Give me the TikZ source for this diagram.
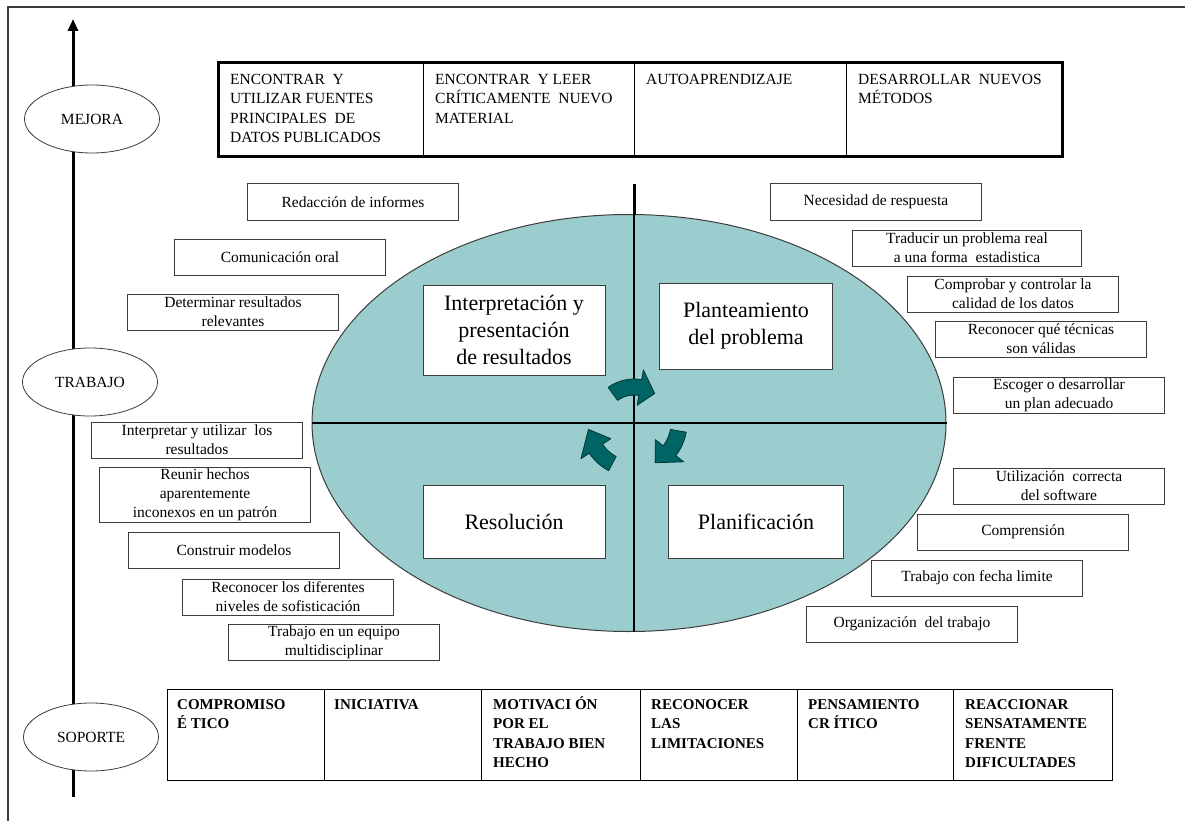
\documentclass[tikz,border=0pt]{standalone}
\usepackage{fontspec}
\setmainfont{Liberation Serif}
\usetikzlibrary{shapes.geometric,arrows.meta}

\definecolor{cyclefill}{RGB}{155,205,206}
\definecolor{arrowfill}{RGB}{0,100,100}
\definecolor{arrowedge}{RGB}{0,55,55}
\definecolor{framegray}{RGB}{60,60,60}

\newcommand\firstline{\rule{0pt}{14pt}}

\tikzset{
  sidebox/.style={draw=framegray, line width=1pt, fill=white, minimum width=211pt,
    minimum height=36pt, align=center, inner sep=1pt,
    font=\fontsize{15.5}{19}\selectfont},
  bigbox/.style={draw=framegray, line width=1pt, fill=white, align=center, inner sep=1pt,
    font=\fontsize{22}{27}\selectfont},
  levelbox/.style={ellipse, draw=framegray, line width=0.8pt, fill=white,
    minimum width=135pt, minimum height=68pt, inner sep=0pt,
    font=\fontsize{15.5}{18}\selectfont},
  celltext/.style={anchor=north west, align=left, inner sep=0pt,
    font=\fontsize{15.5}{19.5}\selectfont},
  celltextb/.style={celltext, font=\fontsize{15}{19.5}\selectfont\bfseries},
  cyclearrow/.style={fill=arrowfill, draw=arrowedge, line width=0.8pt, line join=round},
}

% curved cycle arrow around the origin of the current scope:
% #1 start angle, #2 angle of the head base, #3 tip angle, #4 radius
\newcommand\cyclearrowpath[4]{%
  \path[cyclearrow] (#1:#4+8) arc[start angle=#1, end angle=#2, radius=#4+8]
    -- (#2:#4+18) -- (#3:#4) -- (#2:#4-18) -- (#2:#4-8)
    arc[start angle=#2, end angle=#1, radius=#4-8] -- cycle;}

\begin{document}
\begin{tikzpicture}[x=1pt, y=-1pt]
\useasboundingbox (0,0) rectangle (1185,821);

% outer frame
\draw[line width=2pt, framegray] (8,821) -- (8,7) -- (1185,7);

% vertical level axis
\coordinate (axbot) at (73,797);
\coordinate (axtop) at (73,19);
\draw[line width=3pt, -{Triangle[length=12pt, width=10pt]}] (axbot) -- (axtop);

\node[levelbox] (mejora)  at (92,119) {MEJORA};
\node[levelbox] (trabajo) at (90,382) {TRABAJO};
\node[levelbox] (soporte) at (91,737) {SOPORTE};

% top table
\draw[line width=3pt] (218,63) rectangle (1062,157);
\draw[line width=1pt] (423,63) -- (423,157) (634,63) -- (634,157) (846,63) -- (846,157);
\node[celltext] (t1) at (230,74) {ENCONTRAR\ \ Y\\UTILIZAR\ FUENTES\\PRINCIPALES\ \ DE\\DATOS PUBLICADOS};
\node[celltext] (t2) at (435,74) {ENCONTRAR\ \ Y LEER\\CRÍTICAMENTE\ \ NUEVO\\MATERIAL};
\node[celltext] (t3) at (646,74) {AUTOAPRENDIZAJE};
\node[celltext] (t4) at (858,74) {DESARROLLAR\ \ NUEVOS\\MÉTODOS};

% bottom table
\draw[line width=1pt] (167,689) rectangle (1112,780);
\draw[line width=1pt] (324,689) -- (324,780) (481,689) -- (481,780) (640,689) -- (640,780)
  (797,689) -- (797,780) (953,689) -- (953,780);
\node[celltextb] (b1) at (177,695) {\firstline COMPROMISO\\É TICO};
\node[celltextb] (b2) at (334,695) {\firstline INICIATIVA};
\node[celltextb] (b3) at (493,695) {\firstline MOTIVACI ÓN\\POR EL\\TRABAJO BIEN\\HECHO};
\node[celltextb] (b4) at (651,695) {\firstline RECONOCER\\LAS\\LIMITACIONES};
\node[celltextb] (b5) at (808,695) {\firstline PENSAMIENTO\\CR ÍTICO};
\node[celltextb] (b6) at (965,695) {\firstline REACCIONAR\\SENSATAMENTE\\FRENTE\\DIFICULTADES};

% central cycle
\node[ellipse, draw=framegray, line width=1pt, fill=cyclefill, minimum width=634pt,
  minimum height=417pt, inner sep=0pt] (cycle) at (629,423) {};
\coordinate (divtop) at (634,184);
\coordinate (divrim) at (634,215);
\coordinate (divbot) at (634,632);
\coordinate (hub) at (634,423);
\draw[line width=1.2pt] (cycle.west) -- (cycle.east);
\draw[line width=1.2pt] (divrim) -- (divbot);
\draw[line width=3pt] (divtop) -- (divrim);

\node[bigbox, minimum width=182pt, minimum height=90pt] (interp) at (514,330)
  {Interpretación y\\presentación\\de resultados};
\node[bigbox, minimum width=173pt, minimum height=86pt] (plant) at (746,326)
  {Planteamiento\\del problema};
\node[bigbox, minimum width=182pt, minimum height=73pt] (resol) at (514,522)
  {Resolución};
\node[bigbox, minimum width=175pt, minimum height=73pt] (planif) at (756,522)
  {Planificación};

\begin{scope}[shift={(hub)}]
  \cyclearrowpath{234}{280}{305}{36}
  \cyclearrowpath{10}{38}{62}{45}
  \cyclearrowpath{118}{146}{172}{46}
\end{scope}

% skills on the left
\node[sidebox] (l1) at (353,202) {Redacción de informes};
\node[sidebox] (l2) at (280,257) {Comunicación oral};
\node[sidebox] (l3) at (233,312) {Determinar resultados\\relevantes};
\node[sidebox] (l4) at (197,440) {Interpretar y utilizar\ \ los\\resultados};
\node[sidebox, minimum height=55pt] (l5) at (205,495) {Reunir hechos\\aparentemente\\inconexos en un patrón};
\node[sidebox] (l6) at (234,550) {Construir modelos};
\node[sidebox] (l7) at (288,597) {Reconocer los diferentes\\niveles de sofisticación};
\node[sidebox] (l8) at (334,642) {Trabajo en un equipo\\multidisciplinar};

% skills on the right
\node[sidebox] (r1) at (876,202) {Necesidad de respuesta};
\node[sidebox, minimum width=229pt] (r2) at (967,248) {Traducir un problema\ real\\a una forma\ \ estadistica};
\node[sidebox] (r3) at (1013,294) {Comprobar\ y controlar la\\calidad\ de los datos};
\node[sidebox] (r4) at (1041,339) {Reconocer qué técnicas\\son válidas};
\node[sidebox] (r5) at (1059,395) {Escoger o desarrollar\\un plan adecuado};
\node[sidebox] (r6) at (1059,486) {Utilización\ \ correcta\\del\ software};
\node[sidebox] (r7) at (1023,532) {Comprensión};
\node[sidebox] (r8) at (977,578) {Trabajo\ con fecha limite};
\node[sidebox] (r9) at (912,624) {Organización\ \ del trabajo};
\end{tikzpicture}
\end{document}
